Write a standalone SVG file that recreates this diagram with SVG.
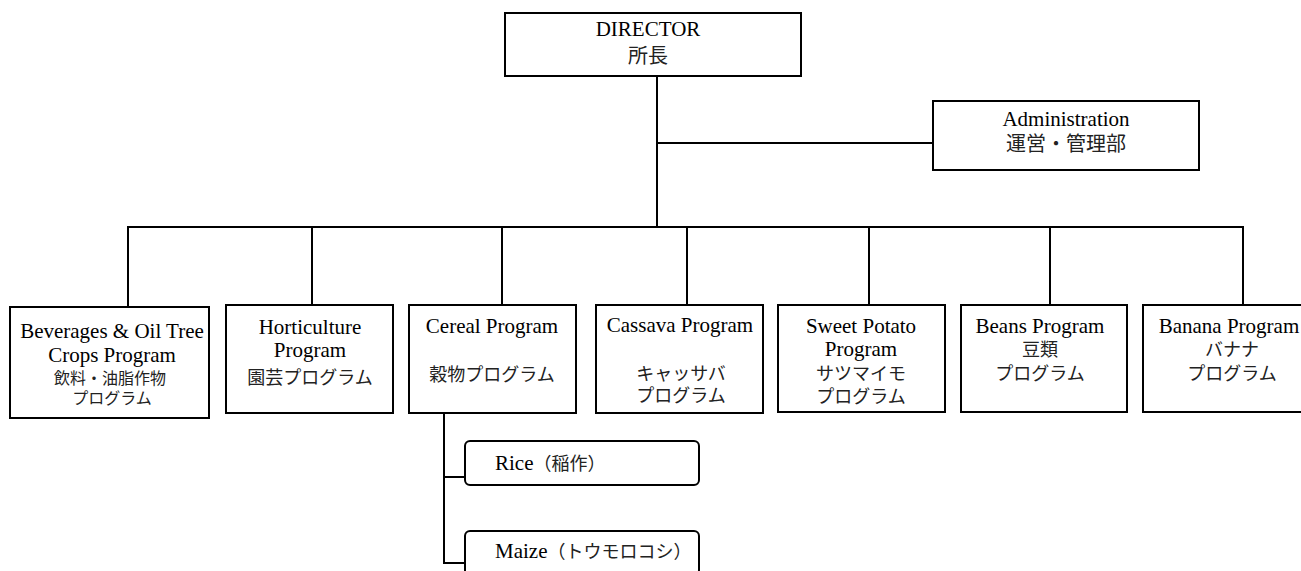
<svg xmlns="http://www.w3.org/2000/svg" width="1301" height="571" viewBox="0 0 1301 571">
<style>
.box{fill:#fff;stroke:#000;stroke-width:2}
.ln{fill:none;stroke:#000;stroke-width:2}
.en{font-family:"Liberation Serif","Times New Roman",serif;font-size:21px;fill:#000}
.jp{font-family:"Liberation Serif","Noto Sans CJK JP",serif;fill:#222}
.c{text-anchor:middle}
</style>
<rect width="1301" height="571" fill="#fff"/>
<g id="connectors">
<line class="ln" x1="657" y1="76" x2="657" y2="228"/>
<line class="ln" x1="657" y1="143" x2="933" y2="143"/>
<line class="ln" x1="127" y1="227" x2="1244" y2="227"/>
<line class="ln" x1="128" y1="227" x2="128" y2="307"/>
<line class="ln" x1="312" y1="227" x2="312" y2="305"/>
<line class="ln" x1="502" y1="227" x2="502" y2="305"/>
<line class="ln" x1="687" y1="227" x2="687" y2="305"/>
<line class="ln" x1="869" y1="227" x2="869" y2="305"/>
<line class="ln" x1="1050" y1="227" x2="1050" y2="305"/>
<line class="ln" x1="1243" y1="227" x2="1243" y2="305"/>
<line class="ln" x1="444" y1="413" x2="444" y2="564"/>
<line class="ln" x1="444" y1="477" x2="465" y2="477"/>
<line class="ln" x1="444" y1="563" x2="465" y2="563"/>
</g>
<g id="director">
<rect class="box" x="505" y="13" width="296" height="63"/>
<text class="en c" x="648" y="36">DIRECTOR</text>
<text class="jp c" x="648" y="63" font-size="20">所長</text>
</g>
<g id="administration">
<rect class="box" x="933" y="101" width="266" height="69"/>
<text class="en c" x="1066" y="126">Administration</text>
<text class="jp c" x="1066" y="151" font-size="20">運営・管理部</text>
</g>
<g id="beverages">
<rect class="box" x="10" y="307" width="199" height="111"/>
<text class="en c" x="112" y="338">Beverages &amp; Oil Tree</text>
<text class="en c" x="112" y="362">Crops Program</text>
<text class="jp c" x="110" y="384" font-size="16">飲料・油脂作物</text>
<text class="jp c" x="112" y="404" font-size="16">プログラム</text>
</g>
<g id="horticulture">
<rect class="box" x="226" y="305" width="167" height="108"/>
<text class="en c" x="310" y="334">Horticulture</text>
<text class="en c" x="310" y="357">Program</text>
<text class="jp c" x="310" y="384" font-size="18">園芸プログラム</text>
</g>
<g id="cereal">
<rect class="box" x="409" y="305" width="167" height="108"/>
<text class="en c" x="492" y="333">Cereal Program</text>
<text class="jp c" x="492" y="381" font-size="18">穀物プログラム</text>
</g>
<g id="cassava">
<rect class="box" x="596" y="305" width="167" height="108"/>
<text class="en c" x="680" y="332">Cassava Program</text>
<text class="jp c" x="681" y="380" font-size="18">キャッサバ</text>
<text class="jp c" x="681" y="402" font-size="18">プログラム</text>
</g>
<g id="sweetpotato">
<rect class="box" x="778" y="305" width="167" height="107"/>
<text class="en c" x="861" y="333">Sweet Potato</text>
<text class="en c" x="861" y="356">Program</text>
<text class="jp c" x="861" y="380" font-size="18">サツマイモ</text>
<text class="jp c" x="861" y="403" font-size="18">プログラム</text>
</g>
<g id="beans">
<rect class="box" x="961" y="305" width="166" height="107"/>
<text class="en c" x="1040" y="333">Beans Program</text>
<text class="jp c" x="1040" y="356" font-size="18">豆類</text>
<text class="jp c" x="1040" y="380" font-size="18">プログラム</text>
</g>
<g id="banana">
<rect class="box" x="1143" y="305" width="170" height="107"/>
<text class="en c" x="1229" y="333">Banana Program</text>
<text class="jp c" x="1232" y="356" font-size="18">バナナ</text>
<text class="jp c" x="1232" y="380" font-size="18">プログラム</text>
</g>
<g id="rice">
<rect class="box" x="465" y="441" width="234" height="44" rx="5"/>
<text class="en" x="495" y="470">Rice<tspan class="jp" font-size="18">（稲作）</tspan></text>
</g>
<g id="maize">
<rect class="box" x="465" y="531" width="234" height="44" rx="5"/>
<text class="en" x="495" y="558">Maize<tspan class="jp" font-size="18">（トウモロコシ）</tspan></text>
</g>
</svg>
